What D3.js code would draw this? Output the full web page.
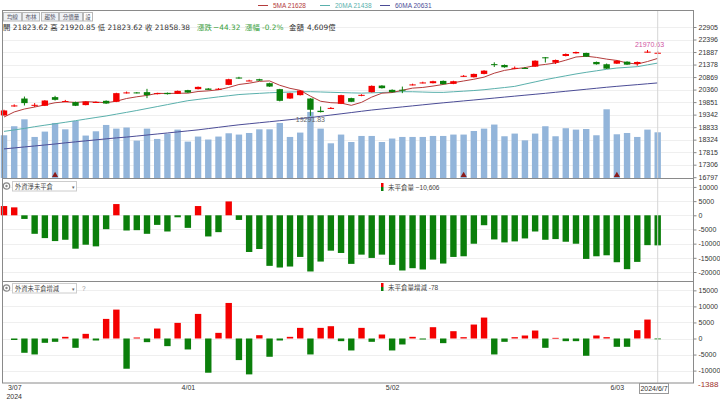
<!DOCTYPE html>
<html><head><meta charset="utf-8">
<script src="https://cdn.jsdelivr.net/npm/d3@7"></script>
<style>
body{margin:0;background:#fff;}
svg{display:block;font-family:"Liberation Sans","Noto Sans CJK TC",sans-serif;}
</style></head><body>
<svg id="c" width="720" height="399"></svg>
<script>
const dates = ["3/06","3/07","3/08","3/11","3/12","3/13","3/14","3/15","3/18","3/19","3/20","3/21","3/22","3/25","3/26","3/27","3/28","3/29",
"4/01","4/02","4/03","4/08","4/09","4/10","4/11","4/12","4/15","4/16","4/17","4/18","4/19","4/22","4/23","4/24","4/25","4/26","4/29","4/30",
"5/02","5/03","5/06","5/07","5/08","5/09","5/10","5/13","5/14","5/15","5/16","5/17","5/20","5/21","5/22","5/23","5/24","5/27","5/28","5/29","5/30","5/31",
"6/03","6/04","6/05","6/06","6/07"];
const openP = [19310,19700,19996,19720,19701,20053,19885,19851,19729,19840,19903,19863,20230,20245,20256,20175,20227,20187,20337,20377,20402,20380,20551,20850,20720,20782,20620,20377,19996,20134,19996,19498,19595,19782,20013,20106,20256,20523,20349,20355,20555,20635,20620,20713,20592,20905,20863,20997,21395,21361,21235,21240,21292,21673,21454,21726,21835,21850,21483,21390,21414,21495,21402,21880,21823.62];
const highP = [19540,19760,20077,19810,19930,20106,19940,19870,19890,19880,19920,20230,20280,20260,20390,20230,20240,20320,20350,20485,20420,20420,20800,20880,20760,20800,20640,20390,20230,20340,20010,19673,19650,20150,20030,20170,20530,20540,20370,20482,20600,20680,20720,20730,20720,20950,21010,21150,21470,21380,21300,21280,21550,21685,21580,21830,21905,21860,21500,21420,21560,21510,21500,21970.63,21920.85];
const lowP = [19300,19660,19713,19648,19690,19915,19850,19690,19720,19820,19780,19850,20200,20205,20013,20160,20160,20180,20225,20365,20335,20350,20540,20800,20700,20710,20470,19880,19980,20120,19291.83,19430,19570,19770,19850,20090,20240,20400,20240,20215,20530,20610,20610,20570,20580,20880,20850,20980,21280,21250,21190,21210,21280,21460,21400,21710,21820,21690,21375,21200,21400,21360,21330,21860,21823.62];
const closeP = [19511,19715,19810,19740,19915,19944,19895,19701,19875,19855,19794,20215,20245,20225,20134,20215,20175,20308,20240,20470,20349,20395,20782,20840,20730,20726,20483,19903,20215,20320,19539,19446,19615,20134,19863,20146,20511,20418,20256,20340,20570,20650,20701,20580,20701,20920,20997,21130,21385,21268,21245,21235,21535,21633,21564,21807,21888,21698,21390,21212,21535,21374,21483,21902.70,21858.38];
const volume = [4310,5220,5920,4140,4680,5550,4910,5750,4280,4710,5350,4980,5090,3770,4980,3940,4480,4880,3670,4180,3880,4180,4510,4380,4540,4910,4910,5550,4140,4580,6660,4980,3500,4380,3630,4240,4240,3630,3980,4140,4140,4140,4240,4240,4380,4380,4740,4980,5390,4210,4480,3800,4480,5220,4210,5020,4880,4940,4310,6930,4410,4540,4140,4880,4609];
const ma5 = [19243,19450,19570,19650,19738,19825,19861,19839,19866,19854,19824,19888,19997,20067,20123,20207,20199,20211,20214,20282,20308,20352,20447,20567,20619,20695,20712,20536,20411,20329,20092,19885,19827,19811,19719,19841,20054,20214,20239,20334,20419,20447,20503,20568,20640,20710,20780,20866,21027,21140,21205,21253,21334,21383,21442,21555,21685,21718,21669,21599,21545,21442,21399,21501,21628];
const ma20 = [18660,18720,18780,18850,18912,18970,19030,19095,19160,19225,19287,19361,19434,19510,19590,19669,19749,19830,19908,19960,20012,20063,20110,20158,20184,20207,20230,20247,20260,20273,20275,20263,20250,20238,20226,20216,20229,20242,20258,20274,20272,20260,20248,20246,20271,20296,20321,20355,20399,20443,20491,20582,20673,20764,20843,20919,20995,21062,21123,21185,21236,21264,21292,21365,21438];
const ma60 = [17947,17987,18027,18067,18107,18147,18194,18234,18275,18315,18356,18396,18429,18470,18512,18554,18596,18638,18680,18722,18774,18826,18878,18927,18969,19011,19053,19095,19137,19180,19222,19273,19324,19375,19426,19478,19529,19572,19614,19656,19698,19740,19782,19822,19860,19899,19937,19976,20015,20054,20093,20132,20170,20209,20250,20291,20332,20373,20414,20455,20492,20527,20561,20596,20631];
const netOI = [3264,2798,-1282,-6528,-8043,-9092,-8626,-11773,-10374,-10957,-4896,3963,-5362,-5246,-6528,-3380,-5712,-699,-4430,3264,-7460,-5945,4896,-1632,-12939,-11890,-17835,-18418,-18068,-14687,-19816,-16319,-12473,-13289,-17135,-13872,-15037,-13872,-17485,-19467,-18651,-19117,-15620,-17019,-14687,-14454,-10025,-3497,-8510,-9558,-9209,-8160,-5712,-8626,-8393,-9325,-10025,-15387,-14454,-14105,-16553,-19001,-16436,-10528,-10606];
const oiChange = [null,-466,-4450,-4968,-1346,-1035,517,-2898,1449,-621,6106,9004,-9418,310,-1138,3105,-2380,4864,-3415,7659,-10660,1760,11074,-6727,-11178,1035,-5693,-621,517,3312,-4968,3312,3830,-828,-3726,3312,-1035,1242,-3726,-1863,517,-311,3519,-1449,2277,414,4347,6520,-4968,-1035,414,932,2484,-2898,200,-828,-828,-5382,932,414,-2588,-2588,2588,5900,-78];
const priceTicks = [22905,22396,21887,21378,20869,20360,19851,19342,18833,18324,17815,17306,16797];
const oiTicks = [10000,5000,0,-5000,-10000,-15000,-20000];
const chgTicks = [15000,10000,5000,0,-5000,-10000];
const dateTicks = ["3/07","4/01","5/02","6/03"];
const markerDates = ["3/13","5/13","6/03"];
const toolButtons = ["均線","布林","趨勢","分價量","設"];

const svg = d3.select("#c");
const L = 2.5, R = 693.5;
const P1 = {top:10.5, bottom:178}, P2 = {top:178, bottom:281}, P3 = {top:281, bottom:383};
const UP = "#f40000", DN = "#0b7f0b";
const C5 = "#b43c3c", C20 = "#5ab0ac", C60 = "#4b4c96";
const n = dates.length, last = n-1;

const x = d3.scalePoint().domain(dates).range([4, 657.7]);
const bw = 6.4;
const yP = d3.scaleLinear().domain([16797, 22905]).range([177.2, 27]);
const yV = d3.scaleLinear().domain([0, 4609]).range([178, 132.3]);
const yO = d3.scaleLinear().domain([0, -20000]).range([215.3, 272]);
const yC = d3.scaleLinear().domain([0, -10000]).range([338.5, 370.6]);

svg.append("rect").attr("width",720).attr("height",399).attr("fill","#fff");

// grid
function grid(scale, ticks){
  svg.append("g").selectAll("line").data(ticks).join("line")
    .attr("x1",L).attr("x2",R).attr("y1",d=>Math.round(scale(d))+0.5).attr("y2",d=>Math.round(scale(d))+0.5)
    .attr("stroke","#efefef");
}
grid(yP, priceTicks.slice(0,-1)); grid(yO, oiTicks); grid(yC, chgTicks);

// volume
svg.append("g").selectAll("rect").data(volume).join("rect")
  .attr("x",(d,i)=>x(dates[i])-bw/2).attr("width",bw)
  .attr("y",d=>yV(d)).attr("height",d=>yV(0)-yV(d)).attr("fill","#93b5da");

// MA lines
const line = d3.line().x((d,i)=>x(dates[i])).y(d=>yP(d));
[[ma60,C60],[ma20,C20],[ma5,C5]].forEach(([arr,c])=>{
  svg.append("path").datum(arr).attr("d",line).attr("fill","none").attr("stroke",c).attr("stroke-width",1);
});

// candles
const cg = svg.append("g");
dates.forEach((d,i)=>{
  const o=openP[i], c=closeP[i], col = c>=o?UP:DN, cx=x(d);
  cg.append("line").attr("x1",cx).attr("x2",cx).attr("y1",yP(highP[i])).attr("y2",yP(lowP[i])).attr("stroke",col).attr("stroke-width",1);
  const yt = yP(Math.max(o,c)), yb = yP(Math.min(o,c));
  cg.append("rect").attr("x",cx-bw/2).attr("width",bw).attr("y",yt).attr("height",Math.max(1,yb-yt)).attr("fill",col);
});

// markers
svg.append("g").selectAll("path").data(markerDates).join("path")
  .attr("d",d3.symbol(d3.symbolTriangle,16)).attr("transform",d=>`translate(${x(d)},175.3)`).attr("fill","#8a1c1c");

// hi/lo labels
let hiI = d3.maxIndex(highP), loI = d3.minIndex(lowP);
svg.append("text").attr("x",x(dates[hiI])+2).attr("y",yP(highP[hiI])-3).attr("text-anchor","middle")
  .attr("font-size",7).attr("fill","#d0559f").text(highP[hiI].toFixed(2));
svg.append("text").attr("x",x(dates[loI])).attr("y",yP(lowP[loI])+6.5).attr("text-anchor","middle")
  .attr("font-size",7).attr("fill","#666").text(lowP[loI].toFixed(2));

// panel 2 & 3 bars
function bars(data, ys){
  svg.append("g").selectAll("rect").data(data.map((v,i)=>({v,i})).filter(d=>d.v!==null)).join("rect")
    .attr("x",d=>x(dates[d.i])-bw/2).attr("width",bw)
    .attr("y",d=>Math.min(ys(d.v),ys(0)))
    .attr("height",d=>Math.max(0.8,Math.abs(ys(d.v)-ys(0))))
    .attr("fill",d=>d.v>=0?UP:DN);
}
bars(netOI, yO);
bars(oiChange, yC);

// crosshair
svg.append("line").attr("x1",x(dates[last])).attr("x2",x(dates[last])).attr("y1",P1.top).attr("y2",P3.bottom)
  .attr("stroke","#d6d6d6").attr("stroke-width",1);

// borders
svg.append("rect").attr("x",L).attr("y",P1.top).attr("width",R-L).attr("height",P3.bottom-P1.top)
  .attr("fill","none").attr("stroke","#8a8a8a").attr("stroke-width",1);
[P1.bottom, P2.bottom].forEach(yy=>svg.append("line").attr("x1",L).attr("x2",R).attr("y1",yy+0.5).attr("y2",yy+0.5).attr("stroke","#8a8a8a"));

// right axes
function raxis(scale, ticks){
  const g = svg.append("g").attr("transform",`translate(${R},0)`)
    .call(d3.axisRight(scale).tickValues(ticks).tickSize(3).tickPadding(2).tickFormat(d=>String(d)));
  g.select(".domain").remove();
  g.selectAll("line").attr("stroke","#888");
  g.selectAll("text").attr("font-size",7).attr("fill","#333").attr("font-family",null);
  return g;
}
raxis(yP, priceTicks); raxis(yO, oiTicks); raxis(yC, chgTicks);

// bottom axis
const bx = svg.append("g").attr("transform",`translate(0,${P3.bottom})`)
  .call(d3.axisBottom(x).tickValues(dateTicks).tickSize(0).tickPadding(2));
bx.select(".domain").remove();
bx.selectAll("text").attr("font-size",7).attr("fill","#333").attr("font-family",null);
svg.append("text").attr("x",x(dates[1])).attr("y",398.5).attr("text-anchor","middle").attr("font-size",7).attr("fill","#333").text("2024");
svg.append("rect").attr("x",639.5).attr("y",383.5).attr("width",29).attr("height",10).attr("fill","#fff").attr("stroke","#999");
svg.append("text").attr("x",654).attr("y",391.3).attr("text-anchor","middle").attr("font-size",7).attr("fill","#333").text("2024/6/7");
svg.append("text").attr("x",698).attr("y",387).attr("font-size",8).attr("fill","#a0322c").text("-1388");

// top legend
const leg = [["5MA",ma5[last],C5,258],["20MA",ma20[last],C20,320],["60MA",ma60[last],C60,380]];
leg.forEach(([nm,v,c,lx])=>{
  svg.append("line").attr("x1",lx).attr("x2",lx+10).attr("y1",5.5).attr("y2",5.5).attr("stroke",c).attr("stroke-width",1);
  svg.append("text").attr("x",lx+15).attr("y",8).attr("font-size",6.5).attr("fill",c).text(`${nm} ${v}`);
});

// toolbar
const bxs = [[3,18],[22,17],[41,17],[59,23],[83,9]];
toolButtons.forEach((t,i)=>{
  const [bx0,bwid]=bxs[i];
  svg.append("rect").attr("x",bx0+0.5).attr("y",12.5).attr("width",bwid).attr("height",8.5).attr("fill",i===4?"#fff":"#eef1f5").attr("stroke","#b8b8b8");
  svg.append("text").attr("x",bx0+0.5+bwid/2).attr("y",19).attr("text-anchor","middle").attr("font-size",5.5).attr("fill","#556").text(t);
});

// OHLC header
const fmt = d3.format(".2f");
const chg = closeP[last]-closeP[last-1];
const pct = chg/closeP[last-1]*100;
const hf = '"DejaVu Sans","Noto Sans CJK TC",sans-serif';
const hdr = svg.append("text").attr("x",3).attr("y",29.8).attr("font-size",7.4).attr("fill","#333").attr("font-family",hf);
hdr.text(`開 ${fmt(openP[last])}  高 ${fmt(highP[last])}  低 ${fmt(lowP[last])}  收 ${fmt(closeP[last])}`);
const h2 = svg.append("text").attr("y",29.8).attr("font-size",7.4).attr("fill","#3aa03a").attr("font-family",hf);
h2.append("tspan").attr("x",197).text("漲跌");
h2.append("tspan").attr("x",213).text(fmt(chg));
h2.append("tspan").attr("x",245).text("漲幅");
h2.append("tspan").attr("x",262).text(`${pct.toFixed(1)}%`);
const h3 = svg.append("text").attr("y",29.8).attr("font-size",7.4).attr("fill","#333").attr("font-family",hf);
h3.append("tspan").attr("x",289).text("金額");
h3.append("tspan").attr("x",307).text(`${d3.format(",")(volume[last])}億`);

// panel headers
function panelHeader(y0, label, q){
  svg.append("circle").attr("cx",6.5).attr("cy",y0+5).attr("r",3.2).attr("fill","#fff").attr("stroke","#888").attr("stroke-width",1.2);
  svg.append("circle").attr("cx",6.5).attr("cy",y0+5).attr("r",1.2).attr("fill","#888");
  svg.append("rect").attr("x",12.5).attr("y",y0+0.5).attr("width",64).attr("height",9.5).attr("fill","#fff").attr("stroke","#ccc");
  svg.append("text").attr("x",15).attr("y",y0+8).attr("font-size",6.3).attr("fill","#444").text(label);
  svg.append("text").attr("x",72).attr("y",y0+7.5).attr("font-size",5).attr("fill","#666").text("▾");
  if(q) svg.append("text").attr("x",82).attr("y",y0+8).attr("font-size",6.5).attr("fill","#999").text("?");
}
panelHeader(181, "外資淨未平倉", false);
panelHeader(283, "外資未平倉增減", true);

function legendIcon(xx, y0, label){
  svg.append("rect").attr("x",xx).attr("y",y0).attr("width",2.5).attr("height",4).attr("fill",UP);
  svg.append("rect").attr("x",xx).attr("y",y0+4).attr("width",2.5).attr("height",4).attr("fill",DN);
  svg.append("text").attr("x",xx+7).attr("y",y0+6.8).attr("font-size",6.5).attr("fill","#444").text(label);
}
legendIcon(381, 183, `未平倉量 ${d3.format(",")(netOI[last])}`);
legendIcon(381, 283, `未平倉量增減 ${oiChange[last]}`);
</script>
</body></html>
